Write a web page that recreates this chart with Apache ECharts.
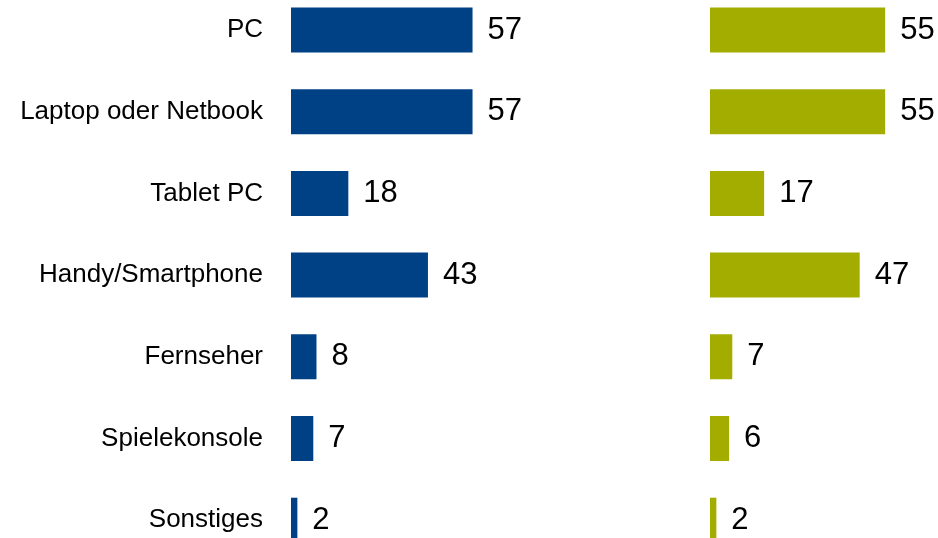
<!DOCTYPE html>
<html>
<head>
<meta charset="utf-8">
<script src="https://cdn.jsdelivr.net/npm/echarts@6/dist/echarts.min.js"></script>
<style>
  html, body { margin: 0; padding: 0; background: #ffffff; }
  #chart { width: 938px; height: 538px; }
</style>
</head>
<body>
<div id="chart"></div>
<script>
// Devices used, two groups side by side
const categories = ['PC', 'Laptop oder Netbook', 'Tablet PC', 'Handy/Smartphone', 'Fernseher', 'Spielekonsole', 'Sonstiges'];
const valuesLeft = [57, 57, 18, 43, 8, 7, 2];
const valuesRight = [55, 55, 17, 47, 7, 6, 2];

const BLUE = '#004185';
const GREEN = '#A3AD00';
const FONT = '"Liberation Sans", Arial, sans-serif';

// 7 rows, each ~81.7px tall; the last row runs past the bottom edge
const rowH = 81.7;
const gridTop = 30 - rowH / 2;
const gridH = rowH * categories.length;
const pxPerUnit = 3.185;

const chart = echarts.init(document.getElementById('chart'), null, { renderer: 'canvas' });

const valueLabel = {
  show: true,
  position: 'right',
  distance: 15,
  color: '#000000',
  fontFamily: FONT,
  fontSize: 31
};

chart.setOption({
  animation: false,
  backgroundColor: '#ffffff',
  grid: [
    { left: 291, top: gridTop, width: 100 * pxPerUnit, height: gridH, containLabel: false, outerBoundsMode: 'none' },
    { left: 710, top: gridTop, width: 100 * pxPerUnit, height: gridH, containLabel: false, outerBoundsMode: 'none' }
  ],
  xAxis: [
    { gridIndex: 0, type: 'value', min: 0, max: 100, show: false },
    { gridIndex: 1, type: 'value', min: 0, max: 100, show: false }
  ],
  yAxis: [
    {
      gridIndex: 0, type: 'category', data: categories, inverse: true,
      axisLine: { show: false }, axisTick: { show: false }, splitLine: { show: false },
      axisLabel: { color: '#000000', fontFamily: FONT, fontSize: 26, margin: 28 }
    },
    {
      gridIndex: 1, type: 'category', data: categories, inverse: true,
      axisLine: { show: false }, axisTick: { show: false }, splitLine: { show: false },
      axisLabel: { show: false }
    }
  ],
  series: [
    {
      type: 'bar', xAxisIndex: 0, yAxisIndex: 0, data: valuesLeft,
      barWidth: 45, itemStyle: { color: BLUE }, label: valueLabel
    },
    {
      type: 'bar', xAxisIndex: 1, yAxisIndex: 1, data: valuesRight,
      barWidth: 45, itemStyle: { color: GREEN }, label: valueLabel
    }
  ]
});
</script>
</body>
</html>
